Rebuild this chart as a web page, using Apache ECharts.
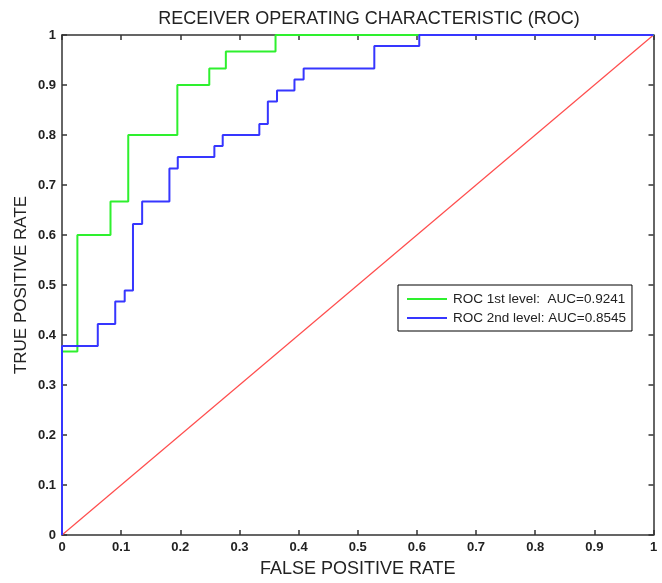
<!DOCTYPE html>
<html>
<head>
<meta charset="utf-8">
<script src="https://cdn.jsdelivr.net/npm/echarts@6/dist/echarts.min.js"></script>
<style>
  html, body { margin: 0; padding: 0; background: #fff; }
  #main { width: 662px; height: 583px; }
</style>
</head>
<body>
<div id="main"></div>
<script>
// ROC 1st level: FPR where the curve steps up, and TPR after each step
const fpr1 = [0, 0.026, 0.082, 0.112, 0.195, 0.249, 0.277, 0.361];
const tpr1 = [0.367, 0.6, 0.667, 0.8, 0.9, 0.933, 0.967, 1.0];
// ROC 2nd level
const fpr2 = [0, 0.0605, 0.090, 0.106, 0.120, 0.1355, 0.1816, 0.1957, 0.2576, 0.2717,
              0.3336, 0.348, 0.3635, 0.393, 0.4085, 0.528, 0.604];
const tpr2 = [0.378, 0.422, 0.467, 0.489, 0.622, 0.667, 0.733, 0.756, 0.778, 0.8,
              0.822, 0.867, 0.889, 0.911, 0.933, 0.978, 1.0];
// chance line
const diagX = [0, 1];
const diagY = [0, 1];

const name1 = 'ROC 1st level:  AUC=0.9241';
const name2 = 'ROC 2nd level: AUC=0.8545';

function stepPoints(fpr, tpr) {
  let pts = [[0, 0]];
  let prev = 0;
  for (let i = 0; i < fpr.length; i++) {
    pts.push([fpr[i], prev]);
    pts.push([fpr[i], tpr[i]]);
    prev = tpr[i];
  }
  pts.push([1, prev]);
  return pts;
}

const font = 'Liberation Sans, Arial, sans-serif';
const axisColor = '#333';
const lineIcon = 'path://M0,0 L40,0 L40,2 L0,2 Z';

function valAxis(extra) {
  return Object.assign({
    type: 'value', min: 0, max: 1, interval: 0.1,
    axisLine: { show: true, onZero: false, lineStyle: { color: axisColor, width: 1.5 } },
    axisTick: { show: true, inside: true, length: 5, lineStyle: { color: axisColor, width: 1.5 } },
    splitLine: { show: false },
    axisLabel: { show: true, color: '#222', fontFamily: font, fontWeight: 'bold', fontSize: 13, margin: 6 }
  }, extra);
}

let chart = echarts.init(document.getElementById('main'), null, { renderer: 'canvas' });
chart.setOption({
  animation: false,
  backgroundColor: '#fff',
  title: {
    text: 'RECEIVER OPERATING CHARACTERISTIC (ROC)',
    left: 364, top: 5, textAlign: 'center',
    textStyle: { fontFamily: font, fontWeight: 'normal', fontSize: 18, color: '#222' }
  },
  grid: { left: 62, right: 8.5, top: 35, bottom: 43.5 },
  legend: {
    data: [
      { name: name1, icon: lineIcon },
      { name: name2, icon: lineIcon }
    ],
    orient: 'vertical',
    left: 398, top: 285,
    padding: [7, 6, 6, 9],
    itemGap: 5,
    itemWidth: 40, itemHeight: 2,
    borderColor: '#000', borderWidth: 1,
    backgroundColor: '#fff',
    textStyle: { fontFamily: font, fontSize: 13.5, color: '#222', lineHeight: 14, padding: [0, 0, 0, 1] }
  },
  xAxis: [
    valAxis({
      position: 'bottom',
      name: 'FALSE POSITIVE RATE', nameLocation: 'middle', nameGap: 25,
      nameMoveOverlap: false,
      nameTextStyle: { fontFamily: font, fontSize: 18, color: '#222' }
    }),
    valAxis({ position: 'top', axisLabel: { show: false } })
  ],
  yAxis: [
    valAxis({
      position: 'left',
      name: 'TRUE POSITIVE RATE', nameLocation: 'middle', nameGap: 32,
      nameMoveOverlap: false,
      nameTextStyle: { fontFamily: font, fontSize: 17, color: '#222' }
    }),
    valAxis({ position: 'right', axisLabel: { show: false } })
  ],
  series: [
    {
      type: 'line', name: 'chance',
      data: diagX.map((x, i) => [x, diagY[i]]),
      showSymbol: false, symbol: 'none',
      lineStyle: { color: '#ff4d4d', width: 1.2 },
      z: 2
    },
    {
      type: 'line', name: name1,
      data: stepPoints(fpr1, tpr1),
      showSymbol: false, symbol: 'none',
      color: '#2ef02e',
      lineStyle: { color: '#2ef02e', width: 2 },
      z: 3
    },
    {
      type: 'line', name: name2,
      data: stepPoints(fpr2, tpr2),
      showSymbol: false, symbol: 'none',
      color: '#3636ff',
      lineStyle: { color: '#3636ff', width: 2 },
      z: 4
    }
  ]
});
</script>
</body>
</html>
